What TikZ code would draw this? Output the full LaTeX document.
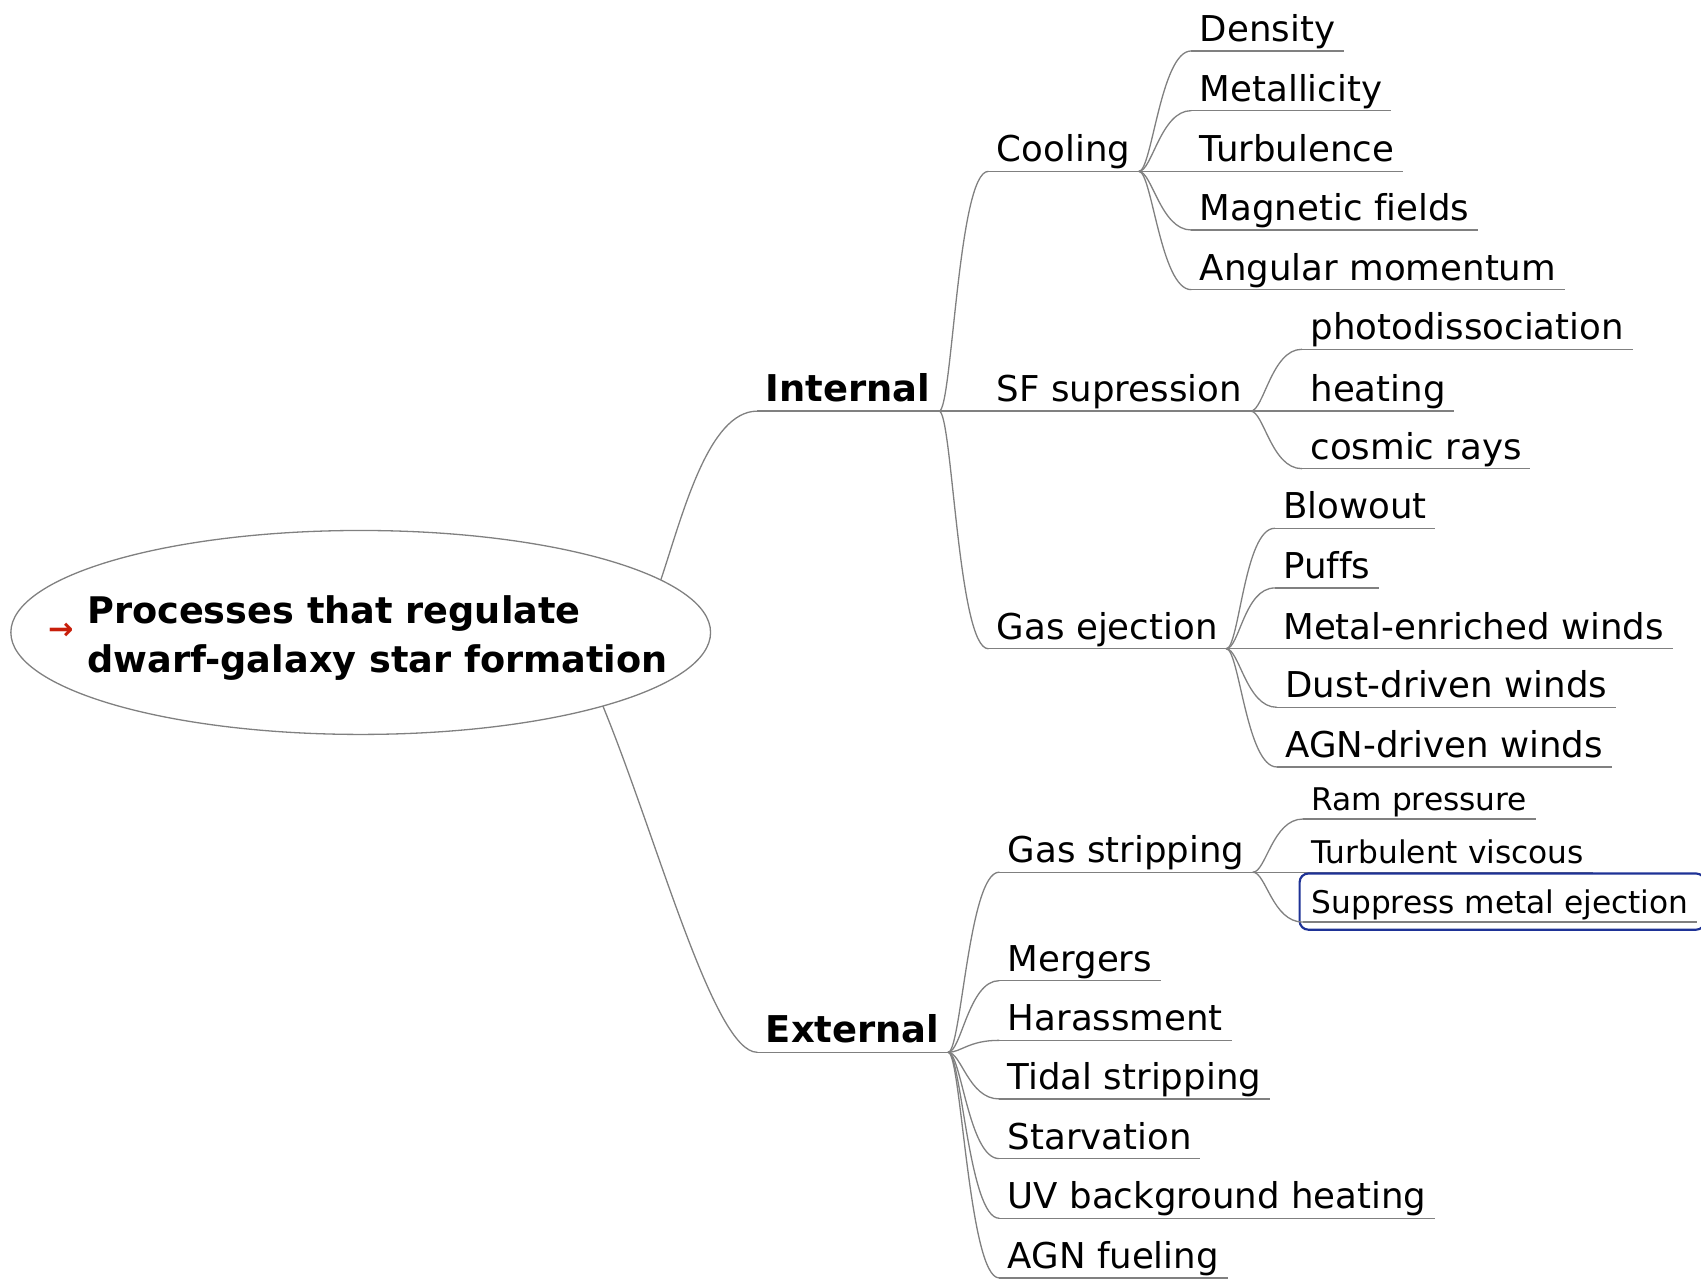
\documentclass[tikz,border=0pt]{standalone}
\usepackage{fontspec}
\setmainfont[Ligatures=NoCommon]{DejaVu Sans}
\usetikzlibrary{shapes.geometric}
\definecolor{linegray}{RGB}{128,128,128}
\definecolor{bulletred}{RGB}{200,30,10}
\definecolor{selblue}{RGB}{30,50,150}

\begin{document}
\begin{tikzpicture}[x=0.5pt, y=-0.5pt,
    branch/.style={draw=linegray, line width=0.6pt},
    link/.style={branch, line cap=round},
    fork/.style={to path={.. controls +(12,0) and +(-28,0) .. (\tikztotarget)}},
    topic/.style={anchor=south west, inner xsep=3.8pt, inner ysep=0.3pt,
        text height=12.5pt, text depth=3.9pt, font=\fontsize{16.4}{19}\selectfont,
        append after command={(\tikzlastnode.south west) edge[branch] (\tikzlastnode.south east)}},
    subtopic/.style={topic, text height=11pt, text depth=3.4pt, font=\fontsize{14.4}{17}\selectfont},
    maintopic/.style={topic, text height=13pt, text depth=4.1pt, font=\fontsize{17}{20}\selectfont\bfseries},
    selbox/.style={draw=selblue, line width=1pt, rounded corners=4pt}]

    \useasboundingbox (0,0) rectangle (1568,1181);

    % Root ellipse
    \node[draw=linegray, line width=0.6pt, ellipse, minimum width=322.5pt, minimum height=94pt, inner sep=0pt] (root) at (332.5,583) {};
    \node[text=bulletred, font=\fontsize{14}{14}\selectfont\bfseries, inner sep=0pt] (bullet) at (56,582) {→};
    \node[anchor=west, align=left, inner sep=0pt, font=\fontsize{16.9}{22.5}\selectfont\bfseries] (title) at (80,588.5)
        {Processes that regulate\\dwarf-galaxy star formation};

    % Main branches
    \node[maintopic] (internal) at (698,379) {Internal};
    \node[maintopic] (external) at (698,970) {External};

    % Internal
    \node[topic] (cooling) at (911,158) {Cooling};
    \node[topic] (sfsup) at (911,379) {SF supression};
    \node[topic] (gasej) at (911,598) {Gas ejection};

    \node[topic] (density) at (1098,47) {Density};
    \node[topic] (metallicity) at (1098,102) {Metallicity};
    \node[topic] (turbulence) at (1098,158) {Turbulence};
    \node[topic] (magnetic) at (1098,212) {Magnetic fields};
    \node[topic] (angular) at (1098,267) {Angular momentum};

    \node[topic] (photo) at (1200,322) {photodissociation};
    \node[topic] (heating) at (1200,379) {heating};
    \node[topic] (cosmic) at (1200,432) {cosmic rays};

    \node[topic] (blowout) at (1175,487) {Blowout};
    \node[topic] (puffs) at (1175,542) {Puffs};
    \node[topic] (metalwinds) at (1175,598) {Metal-enriched winds};
    \node[topic] (dustwinds) at (1177,652) {Dust-driven winds};
    \node[topic] (agnwinds) at (1177,707) {AGN-driven winds};

    % External
    \node[topic] (gasstrip) at (921,804) {Gas stripping};
    \node[topic] (mergers) at (921,904) {Mergers};
    \node[topic] (harass) at (921,959) {Harassment};
    \node[topic] (tidal) at (921,1013) {Tidal stripping};
    \node[topic] (starv) at (921,1068) {Starvation};
    \node[topic] (uvbg) at (921,1123) {UV background heating};
    \node[topic] (agnfuel) at (921,1178) {AGN fueling};

    \node[subtopic] (ram) at (1201,755) {Ram pressure};
    \node[subtopic] (viscous) at (1201,804) {Turbulent viscous};
    \node[subtopic] (suppress) at (1201,850) {Suppress metal ejection};

    % Selected item
    \draw[selbox] ([xshift=-1.5pt,yshift=-3.5pt]suppress.south west) rectangle ([xshift=3.5pt,yshift=7pt]suppress.north east);

    % Links from the root
    \draw[link] (root.10) .. controls +(20,-60) and +(-45,0) .. (internal.south west);
    \draw[link] (root.343) .. controls +(50,122) and +(-40,0) .. (external.south west);

    % Links inside the map
    \draw[link] (internal.south east) to[fork] (cooling.south west);
    \draw[link] (internal.south east) to[fork] (sfsup.south west);
    \draw[link] (internal.south east) to[fork] (gasej.south west);

    \draw[link] (cooling.south east) to[fork] (density.south west);
    \draw[link] (cooling.south east) to[fork] (metallicity.south west);
    \draw[link] (cooling.south east) to[fork] (turbulence.south west);
    \draw[link] (cooling.south east) to[fork] (magnetic.south west);
    \draw[link] (cooling.south east) to[fork] (angular.south west);

    \draw[link] (sfsup.south east) to[fork] (photo.south west);
    \draw[link] (sfsup.south east) to[fork] (heating.south west);
    \draw[link] (sfsup.south east) to[fork] (cosmic.south west);

    \draw[link] (gasej.south east) to[fork] (blowout.south west);
    \draw[link] (gasej.south east) to[fork] (puffs.south west);
    \draw[link] (gasej.south east) to[fork] (metalwinds.south west);
    \draw[link] (gasej.south east) to[fork] (dustwinds.south west);
    \draw[link] (gasej.south east) to[fork] (agnwinds.south west);

    \draw[link] (external.south east) to[fork] (gasstrip.south west);
    \draw[link] (external.south east) to[fork] (mergers.south west);
    \draw[link] (external.south east) to[fork] (harass.south west);
    \draw[link] (external.south east) to[fork] (tidal.south west);
    \draw[link] (external.south east) to[fork] (starv.south west);
    \draw[link] (external.south east) to[fork] (uvbg.south west);
    \draw[link] (external.south east) to[fork] (agnfuel.south west);

    \draw[link] (gasstrip.south east) to[fork] (ram.south west);
    \draw[link] (gasstrip.south east) to[fork] (viscous.south west);
    \draw[link] (gasstrip.south east) to[fork] (suppress.south west);

\end{tikzpicture}
\end{document}
